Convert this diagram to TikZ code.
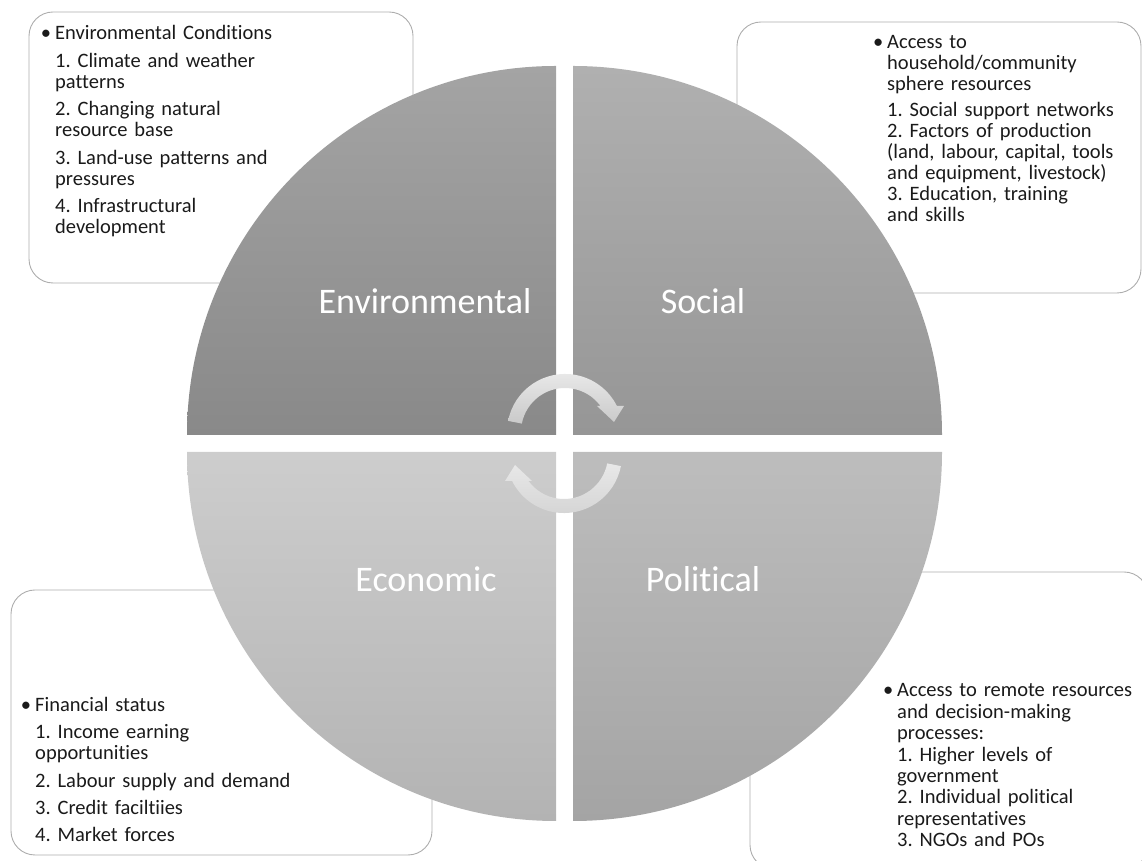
\documentclass[tikz,border=0pt]{standalone}
\usepackage{fontspec}
\setmainfont{Carlito}[Ligatures={NoCommon,NoRare,NoContextual}]
\definecolor{envT}{HTML}{A4A4A4}
\definecolor{envB}{HTML}{898989}
\definecolor{socT}{HTML}{B0B0B0}
\definecolor{socB}{HTML}{969696}
\definecolor{ecoT}{HTML}{CDCDCD}
\definecolor{ecoB}{HTML}{B3B3B3}
\definecolor{polT}{HTML}{BDBDBD}
\definecolor{polB}{HTML}{A4A4A4}
\definecolor{boxgray}{HTML}{ADADAD}
\definecolor{bodyink}{HTML}{1A1A1A}
\newcommand{\bulitem}{\makebox[0pt][r]{\textbullet\hspace{4pt}}}
\begin{document}
\begin{tikzpicture}[x=1pt,y=1pt,
  infobox/.style={draw=boxgray, line width=0.9pt, rounded corners=24pt},
  bodytext/.style={font=\fontsize{20.5}{21}\selectfont\frenchspacing, text=bodyink, align=left,
    text width=330pt, inner sep=0pt, anchor=base west},
  quadlbl/.style={font=\fontsize{36}{40}\selectfont, text=white, inner sep=0pt, anchor=base},
  toparrow/.style={top color=black!8, bottom color=black!21},
  botarrow/.style={top color=black!9, bottom color=black!17}]
\useasboundingbox (0,0) rectangle (1142,861);
\clip (0,0) rectangle (1142,861);

% text boxes (behind the circle)
\draw[infobox] (29,849) rectangle (413,578);
\draw[infobox] (737,839) rectangle (1141,568);
\draw[infobox] (11,271) rectangle (432,6);
\draw[infobox] (750,289) rectangle (1148,-8);

% quadrants
\shade[top color=envT, bottom color=envB]
  (556,426) -- (187,426) arc[start angle=180, end angle=90, radius=369] -- cycle;
\shade[top color=socT, bottom color=socB]
  (573,426) -- (573,795) arc[start angle=90, end angle=0, radius=369] -- cycle;
\shade[top color=ecoT, bottom color=ecoB]
  (556,409) -- (556,40) arc[start angle=270, end angle=180, radius=369] -- cycle;
\shade[top color=polT, bottom color=polB]
  (573,409) -- (942,409) arc[start angle=0, end angle=-90, radius=369] -- cycle;

% cycle arrows
\shade[toparrow] (508.1,440.1) arc[start angle=169, end angle=26.6, radius=58]
  -- (624,455) -- (614,439) -- (597,455) -- (600.5,455)
  arc[start angle=36.2, end angle=169, radius=44] -- cycle;
\begin{scope}[rotate around={180:(564.5,417.5)}]
\shade[botarrow] (508.1,440.1) arc[start angle=169, end angle=26.6, radius=58]
  -- (624,455) -- (614,439) -- (597,455) -- (600.5,455)
  arc[start angle=36.2, end angle=169, radius=44] -- cycle;
\end{scope}

% quadrant labels
\node[quadlbl] (envlbl) at (425,547) {Environmental};
\node[quadlbl] (soclbl) at (703,547) {Social};
\node[quadlbl] (ecolbl) at (426,269) {Economic};
\node[quadlbl] (pollbl) at (703,269) {Political};

% box texts
\node[bodytext] (envtxt) at (55,821) {\bulitem Environmental Conditions\\[6.5pt]
1. Climate and weather\\
patterns\\[6.5pt]
2. Changing natural\\
resource base\\[6.5pt]
3. Land-use patterns and\\
pressures\\[6.5pt]
4. Infrastructural\\
development};

\node[bodytext] (soctxt) at (887,812) {\bulitem Access to\\
household/community\\
sphere resources\\[5pt]
1. Social support networks\\
2. Factors of production\\
(land, labour, capital, tools\\
and equipment, livestock)\\
3. Education, training\\
and skills};

\node[bodytext] (ecotxt) at (35,149) {\bulitem Financial status\\[6pt]
1. Income earning\\
opportunities\\[6.5pt]
2. Labour supply and demand\\[6pt]
3. Credit faciltiies\\[6pt]
4. Market forces};

\node[bodytext] (poltxt) at (897,164) {\bulitem Access to remote resources\\[0.4pt]
and decision-making\\[0.4pt]
processes:\\[0.4pt]
1. Higher levels of\\[0.4pt]
government\\[0.4pt]
2. Individual political\\[0.4pt]
representatives\\[0.4pt]
3. NGOs and POs};
\end{tikzpicture}
\end{document}
